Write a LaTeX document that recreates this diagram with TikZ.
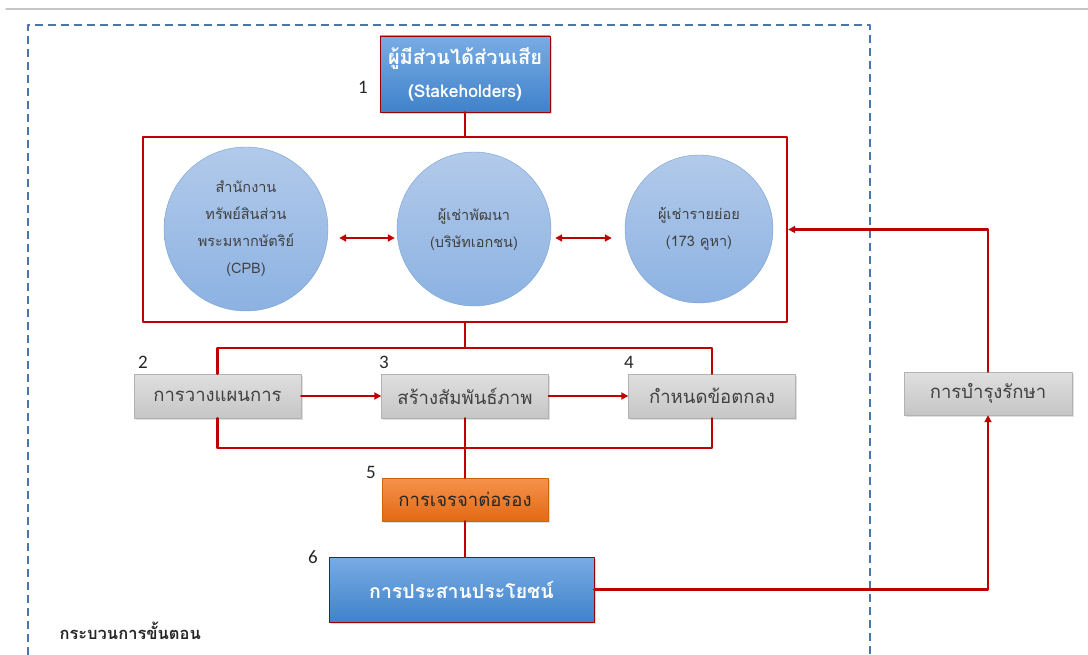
\documentclass[tikz,border=0pt]{standalone}
\usepackage{fontspec}
\setmainfont{Carlito}
\newfontfamily\thaifont[Script=Thai]{Loma}
\usetikzlibrary{arrows.meta,shadows}
\definecolor{linkred}{HTML}{C00000}
\definecolor{dashblue}{HTML}{4A76A8}
\definecolor{textgray}{HTML}{404040}
\begin{document}
\begin{tikzpicture}[x=1pt, y=-1pt, line cap=round, line join=round, >={Triangle[length=7pt,width=7pt]}]
	\tikzset{link/.style={draw=linkred, line width=2.4pt},
		greybox/.style={draw=gray!60, top color=gray!25, bottom color=gray!45, minimum width=167pt, minimum height=44pt, font=\thaifont\fontsize{18.5}{20}\selectfont, text=textgray, drop shadow={shadow xshift=1.5pt, shadow yshift=-1.5pt, opacity=0.25}},
		bluebox/.style={draw=linkred!80!black, top color={rgb,255:red,120;green,172;blue,228}, bottom color={rgb,255:red,64;green,130;blue,202}, text=white, font=\thaifont\bfseries, align=center, drop shadow={shadow xshift=2pt, shadow yshift=-2pt, opacity=0.3}},
		bubble/.style={circle, draw={rgb,255:red,120;green,160;blue,212}, top color={rgb,255:red,178;green,202;blue,234}, bottom color={rgb,255:red,140;green,178;blue,226}, align=center, text=textgray, font=\thaifont\fontsize{14.5}{27}\selectfont},
		steplabel/.style={font=\fontsize{19}{22}\selectfont, text=black!85}}
	\useasboundingbox (0,0) rectangle (1088,655);
	\draw[gray!45, line width=1.5pt] (6,9) -- (1088,9);
	\draw[dashblue, line width=2pt, dash pattern=on 8pt off 5pt, line cap=butt] (28,655) |- (870,25) -- (870,655);
	% stakeholders
	\node[bluebox, minimum width=170pt, minimum height=76pt, font=\thaifont\bfseries\fontsize{20}{33}\selectfont] (stake) at (465,74) {ผู้มีส่วนได้ส่วนเสีย\\{\fontsize{17.5}{20}\selectfont (Stakeholders)}};
	\node[steplabel] (n1) at (363,87) {1};
	\node[draw=linkred, line width=2.4pt, minimum width=644pt, minimum height=185pt] (group) at (465,229.5) {};
	\node[bubble, minimum size=164pt] (cpb) at (246,229) {สำนักงาน\\ทรัพย์สินส่วน\\พระมหากษัตริย์\\(CPB)};
	\node[bubble, minimum size=154pt] (dev) at (474,229) {ผู้เช่าพัฒนา\\(บริษัทเอกชน)};
	\node[bubble, minimum size=148pt] (retail) at (699,229) {ผู้เช่ารายย่อย\\(173 คูหา)};
	\draw[link, <->, shorten <=11pt, shorten >=2pt] ([yshift=-9pt]cpb.east) -- ([yshift=-9pt]dev.west);
	\draw[link, <->, shorten <=4pt, shorten >=13pt] ([yshift=-9pt]dev.east) -- ([yshift=-9pt]retail.west);
	\draw[link] (stake.south) -- (group.north);
	% steps 2-4
	\node[greybox] (plan) at (217.5,396) {การวางแผนการ};
	\node[greybox] (bond) at (465,396) {สร้างสัมพันธ์ภาพ};
	\node[greybox] (deal) at (712,396) {กำหนดข้อตกลง};
	\node[steplabel] (n2) at (143,362) {2};
	\node[steplabel] (n3) at (384,362) {3};
	\node[steplabel] (n4) at (629,362) {4};
	\coordinate (ftop) at (465,348);
	\coordinate (fbot) at (465,448);
	\draw[link] (group.south) -- (ftop);
	\draw[link] (plan.north) |- (ftop) -| (deal.north);
	\draw[link] (plan.south) |- (fbot) -| (deal.south);
	\draw[link, ->] (plan) -- (bond);
	\draw[link, ->] (bond) -- (deal);
	% steps 5-6
	\node[draw=orange!80!black, top color={rgb,255:red,246;green,146;blue,76}, bottom color={rgb,255:red,226;green,106;blue,20}, minimum width=166pt, minimum height=43pt, font=\thaifont\fontsize{18.5}{20}\selectfont, text=black!85, drop shadow={shadow xshift=1.5pt, shadow yshift=-1.5pt, opacity=0.25}] (nego) at (465,499.5) {การเจรจาต่อรอง};
	\node[steplabel] (n5) at (371,472) {5};
	\node[bluebox, minimum width=265pt, minimum height=65pt, font=\thaifont\bfseries\fontsize{19.5}{22}\selectfont] (benefit) at (461.5,589.5) {การประสานประโยชน์};
	\node[steplabel] (n6) at (313,557) {6};
	\draw[link] (bond.south) -- (fbot) -- (nego.north);
	\draw[link] (nego.south) -- (benefit.north -| nego.south);
	% maintenance loop
	\node[greybox, minimum width=168pt, minimum height=43pt] (maint) at (988,393.5) {การบำรุงรักษา};
	\draw[link, ->] (benefit.east) -| (maint.south);
	\draw[link, ->] (maint.north) |- (group.east);
	\node[font=\thaifont\bfseries\fontsize{16.5}{18}\selectfont, text=black!85, anchor=west] (title) at (56,631) {กระบวนการขั้นตอน};
\end{tikzpicture}
\end{document}
